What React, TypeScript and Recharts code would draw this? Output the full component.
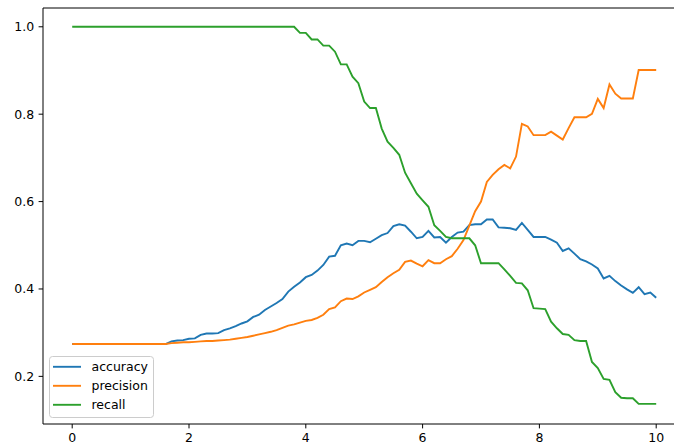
import React from 'react';
import { LineChart, Line, XAxis, YAxis, ReferenceArea, Legend } from 'recharts';

const thresholds = [
  0, 0.1, 0.2, 0.3, 0.4, 0.5, 0.6, 0.7, 0.8, 0.9,
  1, 1.1, 1.2, 1.3, 1.4, 1.5, 1.6, 1.7, 1.8, 1.9,
  2, 2.1, 2.2, 2.3, 2.4, 2.5, 2.6, 2.7, 2.8, 2.9,
  3, 3.1, 3.2, 3.3, 3.4, 3.5, 3.6, 3.7, 3.8, 3.9,
  4, 4.1, 4.2, 4.3, 4.4, 4.5, 4.6, 4.7, 4.8, 4.9,
  5, 5.1, 5.2, 5.3, 5.4, 5.5, 5.6, 5.7, 5.8, 5.9,
  6, 6.1, 6.2, 6.3, 6.4, 6.5, 6.6, 6.7, 6.8, 6.9,
  7, 7.1, 7.2, 7.3, 7.4, 7.5, 7.6, 7.7, 7.8, 7.9,
  8, 8.1, 8.2, 8.3, 8.4, 8.5, 8.6, 8.7, 8.8, 8.9,
  9, 9.1, 9.2, 9.3, 9.4, 9.5, 9.6, 9.7, 9.8, 9.9,
  10,
];

const accuracy = [
  0.274, 0.274, 0.274, 0.274, 0.274, 0.274, 0.274, 0.274, 0.274, 0.274,
  0.274, 0.274, 0.274, 0.274, 0.274, 0.274, 0.274,
  0.280, 0.282, 0.283, 0.286, 0.287,
  0.295, 0.298, 0.298, 0.299,
  0.306, 0.310, 0.315, 0.321, 0.326,
  0.336, 0.341, 0.352, 0.360, 0.368,
  0.377, 0.394, 0.405, 0.415, 0.427,
  0.432, 0.442, 0.455, 0.474, 0.476,
  0.500, 0.504, 0.500, 0.510, 0.510,
  0.507, 0.515, 0.523, 0.528, 0.544,
  0.548, 0.545, 0.531, 0.516, 0.519,
  0.533, 0.518, 0.519, 0.506, 0.519,
  0.529, 0.531, 0.546, 0.548, 0.548,
  0.559, 0.559, 0.541, 0.540, 0.539,
  0.535, 0.551, 0.535, 0.519, 0.519,
  0.519, 0.513, 0.506, 0.487, 0.493,
  0.481, 0.468, 0.463, 0.456, 0.447,
  0.424, 0.430, 0.418, 0.408, 0.399,
  0.391, 0.404, 0.388, 0.392, 0.380,
];

const precision = [
  0.274, 0.274, 0.274, 0.274, 0.274, 0.274, 0.274, 0.274, 0.274, 0.274,
  0.274, 0.274, 0.274, 0.274, 0.274, 0.274, 0.274,
  0.276, 0.277, 0.278, 0.278, 0.279,
  0.280, 0.281, 0.281, 0.282,
  0.283, 0.284, 0.286, 0.288, 0.290,
  0.293, 0.296, 0.299, 0.302, 0.306,
  0.311, 0.316, 0.319, 0.323, 0.327,
  0.329, 0.334, 0.341, 0.354, 0.358,
  0.372, 0.378, 0.377, 0.383, 0.392,
  0.398, 0.404, 0.416, 0.427, 0.436,
  0.444, 0.462, 0.465, 0.458, 0.452,
  0.466, 0.459, 0.459, 0.468, 0.475,
  0.492, 0.512, 0.545, 0.578, 0.600,
  0.645, 0.661, 0.674, 0.684, 0.676,
  0.703, 0.778, 0.772, 0.752, 0.752,
  0.752, 0.760, 0.751, 0.742, 0.768,
  0.793, 0.793, 0.793, 0.801, 0.835,
  0.814, 0.868, 0.847, 0.836, 0.836,
  0.836, 0.901, 0.901, 0.901, 0.901,
];

const recall = [
  1.0, 1.0, 1.0, 1.0, 1.0, 1.0, 1.0, 1.0, 1.0, 1.0,
  1.0, 1.0, 1.0, 1.0, 1.0, 1.0, 1.0, 1.0, 1.0, 1.0,
  1.0, 1.0, 1.0, 1.0, 1.0, 1.0, 1.0, 1.0, 1.0, 1.0,
  1.0, 1.0, 1.0, 1.0, 1.0, 1.0, 1.0, 1.0, 1.0,
  0.986, 0.986,
  0.971, 0.971, 0.957, 0.957, 0.943,
  0.914, 0.914, 0.886, 0.871, 0.829,
  0.814, 0.814, 0.767, 0.737, 0.723,
  0.707, 0.666, 0.642, 0.618, 0.603,
  0.588, 0.546, 0.533, 0.519, 0.516,
  0.516, 0.516, 0.516, 0.500, 0.459,
  0.459, 0.459, 0.459, 0.445, 0.430,
  0.414, 0.413, 0.397, 0.356, 0.355,
  0.354, 0.325, 0.310, 0.297, 0.295,
  0.283, 0.281, 0.281, 0.233, 0.219,
  0.194, 0.192, 0.164, 0.151, 0.150,
  0.150, 0.137, 0.137, 0.137, 0.137,
];

const xTicks = [0, 2, 4, 6, 8, 10];
const yTicks = [0.2, 0.4, 0.6, 0.8, 1.0];
const seriesNames = ['accuracy', 'precision', 'recall'];
const seriesColors = ['#1f77b4', '#ff7f0e', '#2ca02c'];
const xDomain: [number, number] = [-0.5, 10.5];
const yDomain: [number, number] = [0.091, 1.043];

const data = thresholds.map((x, i) => ({
  x,
  accuracy: accuracy[i],
  precision: precision[i],
  recall: recall[i],
}));

const FONT = 'DejaVu Sans, sans-serif';
const tickStyle = { fontSize: 12.5, fill: '#000', fontFamily: FONT };

const LegendBox = () => (
  <svg width={106} height={64} style={{ display: 'block' }}>
    <rect x={0.5} y={0.5} width={104} height={61} rx={3} ry={3}
      fill="rgba(255,255,255,0.8)" stroke="#cccccc" strokeWidth={1} />
    {seriesNames.map((n, i) => (
      <g key={n}>
        <line x1={4} x2={32} y1={10.8 + i * 19} y2={10.8 + i * 19}
          stroke={seriesColors[i]} strokeWidth={1.9} />
        <text x={42.5} y={10.8 + i * 19} dy="0.36em" fontSize={12.5}
          fontFamily={FONT} fill="#000">{n}</text>
      </g>
    ))}
  </svg>
);

export default function App() {
  return (
    <div style={{ position: 'absolute', left: 0, top: 0, width: 674, height: 448, overflow: 'hidden', background: '#fff' }}>
      <LineChart width={690} height={448} data={data}
        margin={{ top: 8, right: 4.6, bottom: 0, left: 0 }}>
        <XAxis dataKey="x" type="number" domain={xDomain} ticks={xTicks}
          allowDataOverflow height={24} axisLine={false}
          tickLine={{ stroke: '#000', strokeWidth: 1 }} tickSize={4.4} tickMargin={4.4}
          tick={tickStyle} tickFormatter={(v: number) => String(v)} />
        <YAxis type="number" domain={yDomain} ticks={yTicks} allowDataOverflow
          width={43} axisLine={false}
          tickLine={{ stroke: '#000', strokeWidth: 1 }} tickSize={4.4} tickMargin={4.4}
          tick={tickStyle} tickFormatter={(v: number) => v.toFixed(1)} />
        <ReferenceArea x1={xDomain[0]} x2={xDomain[1]} y1={yDomain[0]} y2={yDomain[1]}
          fill="none" fillOpacity={0} stroke="#000" strokeWidth={1} ifOverflow="visible" />
        {seriesNames.map((n, i) => (
          <Line key={n} dataKey={n} type="linear" stroke={seriesColors[i]}
            strokeWidth={1.9} dot={false} activeDot={false} isAnimationActive={false} />
        ))}
        <Legend layout="vertical" align="center" verticalAlign="middle"
          content={LegendBox}
          wrapperStyle={{ left: 49, top: 356, width: 106, height: 64 }} />
      </LineChart>
    </div>
  );
}
